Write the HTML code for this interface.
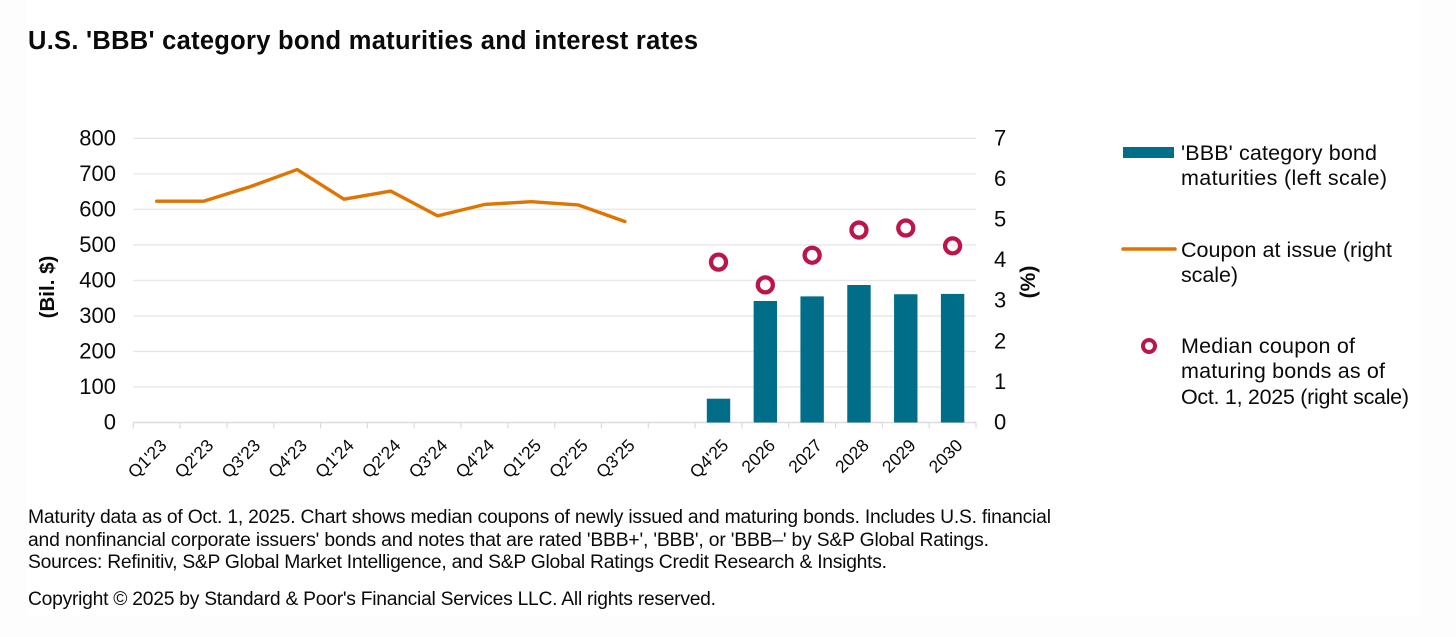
<!DOCTYPE html>
<html lang="en">
<head>
<meta charset="utf-8">
<title>U.S. 'BBB' category bond maturities and interest rates</title>
<style>
html,body{margin:0;padding:0;background:#fdfdfd;}
svg{display:block;}
text{font-family:"Liberation Sans",sans-serif;fill:#0a0a0a;}
</style>
</head>
<body>
<svg id="chart" xmlns="http://www.w3.org/2000/svg" width="1456" height="637" viewBox="0 0 1456 637">
  <rect x="27" y="0" width="1393" height="615" fill="#ffffff"/>
  <text x="28" y="49" font-size="25.5" font-weight="bold" textLength="670" lengthAdjust="spacing">U.S. 'BBB' category bond maturities and interest rates</text>
  <g id="plot"></g>
  <text transform="translate(54,287) rotate(-90)" text-anchor="middle" font-size="20.5" font-weight="bold">(Bil. $)</text>
  <text transform="translate(1035,282) rotate(-90)" text-anchor="middle" font-size="21" font-weight="bold">(%)</text>

  <g>
    <g>
      <rect x="1123" y="147" width="51" height="11" fill="#006d89"/>
      <text x="1181" y="160" font-size="21.5" textLength="196" lengthAdjust="spacing">'BBB' category bond</text>
      <text x="1181" y="185" font-size="21.5" textLength="206" lengthAdjust="spacing">maturities (left scale)</text>
    </g>
    <g>
      <line x1="1123" x2="1175" y1="249" y2="249" stroke="#e07400" stroke-width="3.5" stroke-linecap="round"/>
      <text x="1181" y="257" font-size="21.5" textLength="211" lengthAdjust="spacing">Coupon at issue (right</text>
      <text x="1181" y="282" font-size="21.5" textLength="57" lengthAdjust="spacing">scale)</text>
    </g>
    <g>
      <circle cx="1149" cy="346" r="6" fill="none" stroke="#bb1549" stroke-width="4"/>
      <text x="1181" y="353" font-size="21.5" textLength="174" lengthAdjust="spacing">Median coupon of</text>
      <text x="1181" y="378" font-size="21.5" textLength="204" lengthAdjust="spacing">maturing bonds as of</text>
      <text x="1181" y="404" font-size="21.5" textLength="228" lengthAdjust="spacing">Oct. 1, 2025 (right scale)</text>
    </g>
  </g>

  <g>
    <text x="28" y="523" font-size="19.3" textLength="1023" lengthAdjust="spacing">Maturity data as of Oct. 1, 2025. Chart shows median coupons of newly issued and maturing bonds. Includes U.S. financial</text>
    <text x="28" y="546" font-size="19.3" textLength="961" lengthAdjust="spacing">and nonfinancial corporate issuers' bonds and notes that are rated 'BBB+', 'BBB', or 'BBB–' by S&amp;P Global Ratings.</text>
    <text x="28" y="568" font-size="19.3" textLength="859" lengthAdjust="spacing">Sources: Refinitiv, S&amp;P Global Market Intelligence, and S&amp;P Global Ratings Credit Research &amp; Insights.</text>
    <text x="28" y="605" font-size="19.3" textLength="688" lengthAdjust="spacing">Copyright © 2025 by Standard &amp; Poor's Financial Services LLC. All rights reserved.</text>
  </g>
</svg>
<script>
const categories = ["Q1'23","Q2'23","Q3'23","Q4'23","Q1'24","Q2'24","Q3'24","Q4'24","Q1'25","Q2'25","Q3'25","","Q4'25","2026","2027","2028","2029","2030"];
const maturities = [null,null,null,null,null,null,null,null,null,null,null,null,67,342,355,387,361,362];
const couponAtIssue = [5.45,5.45,5.81,6.23,5.50,5.70,5.09,5.37,5.44,5.36,4.95,null,null,null,null,null,null,null];
const medianCoupon = [null,null,null,null,null,null,null,null,null,null,null,null,3.95,3.39,4.12,4.74,4.79,4.35];
const leftTicks = [0,100,200,300,400,500,600,700,800];
const rightTicks = [0,1,2,3,4,5,6,7];

const SVG_NS = 'http://www.w3.org/2000/svg';
const plot = document.getElementById('plot');
const plotLeft = 133.3, plotRight = 976, plotTop = 138.3, plotBottom = 422.5;
const slot = (plotRight - plotLeft) / categories.length;
function xCenter(i) { return plotLeft + slot * (i + 0.5); }
function xEdge(i) { return plotLeft + slot * i; }
function yLeft(v) { return plotBottom - (v / 800) * (plotBottom - plotTop); }
function yRight(v) { return plotBottom - (v / 7) * (plotBottom - plotTop); }
function make(tag, attrs, text) {
  const el = document.createElementNS(SVG_NS, tag);
  for (const k in attrs) el.setAttribute(k, attrs[k]);
  if (text !== undefined) el.textContent = text;
  plot.appendChild(el);
  return el;
}

leftTicks.forEach(function (t) {
  if (t !== 0) {
    const grid = make('line', {x1: plotLeft, x2: plotRight, y1: yLeft(t), y2: yLeft(t), stroke: '#e8e8e8', 'stroke-width': 1.4});
    
    
  }
  const label = make('text', {x: 116, y: yLeft(t) + 7, 'text-anchor': 'end', 'font-size': 22}, String(t));
  
  
});

rightTicks.forEach(function (t) {
  const label = make('text', {x: 994, y: yRight(t) + 7, 'font-size': 22}, String(t));
  
  
});

const axisLine = make('line', {x1: plotLeft, x2: plotRight, y1: plotBottom, y2: plotBottom, stroke: '#dcdcdc', 'stroke-width': 1.4});



for (let i = 0; i <= categories.length; i++) {
  const tick = make('line', {x1: xEdge(i), x2: xEdge(i), y1: plotBottom, y2: plotBottom + 6, stroke: '#dcdcdc', 'stroke-width': 1.2});
  
  
}

categories.forEach(function (c, i) {
  if (!c) return;
  const lx = xCenter(i) + 11, ly = plotBottom + 24;
  const label = make('text', {x: lx, y: ly, 'text-anchor': 'end', 'font-size': 17.5, transform: 'rotate(-45 ' + lx + ' ' + ly + ')'}, c);
  
  
});

maturities.forEach(function (v, i) {
  if (v === null) return;
  const barWidth = 23.4;
  const bar = make('rect', {x: xCenter(i) - barWidth / 2, y: yLeft(v), width: barWidth, height: plotBottom - yLeft(v), fill: '#006d89'});
  
  
});

const linePoints = [];
couponAtIssue.forEach(function (v, i) {
  if (v !== null) linePoints.push(xCenter(i) + ',' + yRight(v));
});
const couponLine = make('polyline', {points: linePoints.join(' '), fill: 'none', stroke: '#e07400', 'stroke-width': 3.4, 'stroke-linejoin': 'round', 'stroke-linecap': 'round'});



medianCoupon.forEach(function (v, i) {
  if (v === null) return;
  const pt = make('circle', {cx: xCenter(i), cy: yRight(v), r: 7.5, fill: 'none', stroke: '#bb1549', 'stroke-width': 4.3});
  
  
});
</script>
</body>
</html>
